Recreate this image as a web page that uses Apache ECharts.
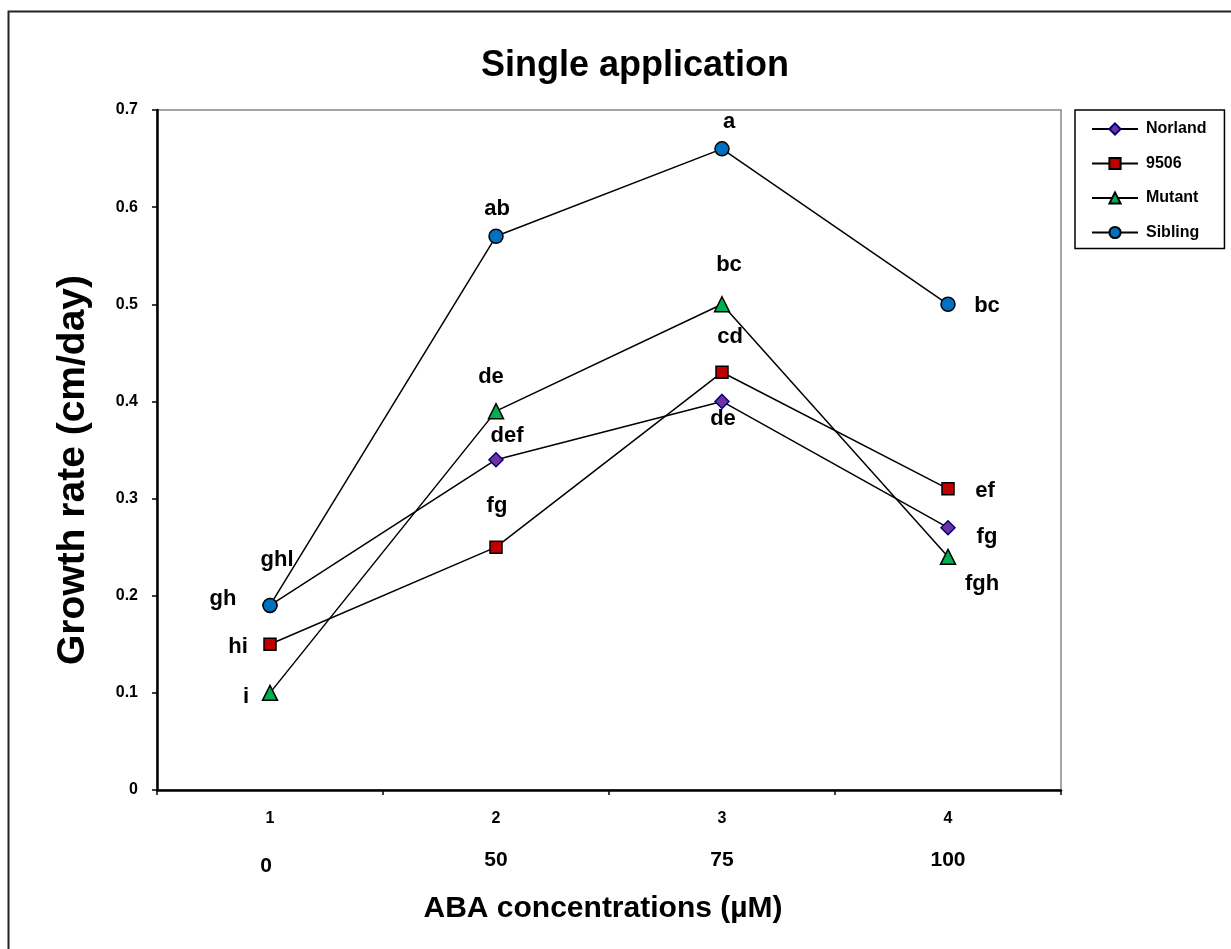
<!DOCTYPE html>
<html>
<head>
<meta charset="utf-8">
<script src="https://cdn.jsdelivr.net/npm/echarts@6/dist/echarts.min.js"></script>
<style>
  html, body { margin: 0; padding: 0; background: #fff; }
  #chart { width: 1231px; height: 949px; }
</style>
</head>
<body>
<div id="chart"></div>
<script>
// data
const tickLabels = ['1', '2', '3', '4'];
const concLabels = ['0', '50', '75', '100'];

const norland = [0.19, 0.34, 0.40, 0.27];
const line9506 = [0.15, 0.25, 0.43, 0.31];
const mutant = [0.10, 0.39, 0.50, 0.24];
const sibling = [0.19, 0.57, 0.66, 0.50];

const norlandLetters = ['ghl', 'def', 'de', 'fg'];
const letters9506 = ['hi', 'fg', 'cd', 'ef'];
const mutantLetters = ['i', 'de', 'bc', 'fgh'];
const siblingLetters = ['gh', 'ab', 'a', 'bc'];

// where each letter sits relative to its point (px)
const norlandOff = [[7, -45], [11, -24], [1, 18], [39, 9]];
const off9506 = [[-32, 3], [1, -41], [8, -35], [37, 2]];
const mutantOff = [[-24, 4], [-5, -34], [7, -39], [34, 27]];
const siblingOff = [[-47, -6], [1, -27], [7, -27], [39, 2]];

const FONT = '"Liberation Sans", Arial, sans-serif';

function pts(values, letters, offs) {
  return values.map(function (v, i) {
    return {
      value: v,
      label: { formatter: letters[i], offset: offs[i] }
    };
  });
}

function mkSeries(name, values, letters, offs, symbol, size, fill, border) {
  return {
    name: name,
    type: 'line',
    data: pts(values, letters, offs),
    symbol: symbol,
    symbolSize: size,
    lineStyle: { color: '#000', width: 1.5 },
    itemStyle: { color: fill, borderColor: border, borderWidth: 1.5 },
    emphasis: { disabled: true },
    label: {
      show: true,
      position: 'inside',
      align: 'center',
      verticalAlign: 'middle',
      color: '#000',
      fontFamily: FONT,
      fontWeight: 'bold',
      fontSize: 22
    },
    animation: false
  };
}

const chart = echarts.init(document.getElementById('chart'));

const option = {
  backgroundColor: '#fff',
  animation: false,
  title: {
    text: 'Single application',
    left: 630,
    top: 43,
    textAlign: 'center',
    textStyle: { fontFamily: FONT, fontWeight: 'bold', fontSize: 36, color: '#000' }
  },
  graphic: [{
    type: 'rect',
    left: 6,
    top: 9,
    shape: { width: 1240, height: 960 },
    style: { fill: 'none', stroke: '#222', lineWidth: 2 },
    silent: true
  }],
  legend: {
    orient: 'vertical',
    left: 1075,
    top: 110,
    padding: [11, 18, 8, 16],
    itemGap: 18.5,
    itemWidth: 46,
    itemHeight: 14,
    borderColor: '#000',
    borderWidth: 1.5,
    data: ['Norland', '9506', 'Mutant', 'Sibling'],
    textStyle: { fontFamily: FONT, fontWeight: 'bold', fontSize: 16, color: '#000', padding: [0, 0, 0, 3] }
  },
  grid: {
    left: 157,
    right: 170,
    top: 110,
    bottom: 159,
    show: true,
    borderColor: '#888',
    borderWidth: 1.5,
    containLabel: false
  },
  xAxis: {
    type: 'category',
    data: tickLabels,
    boundaryGap: true,
    name: 'ABA concentrations (\u00b5M)',
    nameLocation: 'middle',
    nameGap: 104,
    nameMoveOverlap: false,
    nameTextStyle: {
      fontFamily: FONT, fontWeight: 'bold', fontSize: 30, color: '#000',
      padding: [0, 12, 0, 0]
    },
    axisLine: { show: true, lineStyle: { color: '#000', width: 2.5 } },
    axisTick: { show: true, length: 5, lineStyle: { color: '#000', width: 1.5 } },
    axisLabel: {
      margin: 20,
      formatter: function (v, i) {
        return '{n|' + v + '}\n{' + (i === 0 ? 'z' : 'c') + '|' + concLabels[i] + '}';
      },
      rich: {
        n: { fontFamily: FONT, fontWeight: 'bold', fontSize: 16, color: '#000', lineHeight: 18 },
        c: { fontFamily: FONT, fontWeight: 'bold', fontSize: 21, color: '#000', lineHeight: 64 },
        z: { fontFamily: FONT, fontWeight: 'bold', fontSize: 21, color: '#000', lineHeight: 76, padding: [0, 8, 0, 0] }
      }
    },
    splitLine: { show: false }
  },
  yAxis: {
    type: 'value',
    min: 0,
    max: 0.7,
    interval: 0.1,
    name: 'Growth rate (cm/day)',
    nameLocation: 'middle',
    nameGap: 64,
    nameRotate: 90,
    nameMoveOverlap: false,
    nameTextStyle: {
      fontFamily: FONT, fontWeight: 'bold', fontSize: 39, color: '#000',
      padding: [0, 40, 0, 0]
    },
    axisLine: { show: true, lineStyle: { color: '#000', width: 2.5 } },
    axisTick: { show: true, length: 5, lineStyle: { color: '#000', width: 1.5 } },
    axisLabel: {
      margin: 19,
      fontFamily: FONT,
      fontWeight: 'bold',
      fontSize: 16,
      color: '#000',
      formatter: function (v) { return v === 0 ? '0' : v.toFixed(1); }
    },
    splitLine: { show: false }
  },
  series: [
    mkSeries('Norland', norland, norlandLetters, norlandOff, 'diamond', 14, '#7030A0', '#000080'),
    mkSeries('9506', line9506, letters9506, off9506, 'rect', 12, '#C00000', '#000'),
    mkSeries('Mutant', mutant, mutantLetters, mutantOff, 'triangle', 15, '#00B050', '#000'),
    mkSeries('Sibling', sibling, siblingLetters, siblingOff, 'circle', 14, '#0070C0', '#000')
  ]
};

chart.setOption(option);
</script>
</body>
</html>
